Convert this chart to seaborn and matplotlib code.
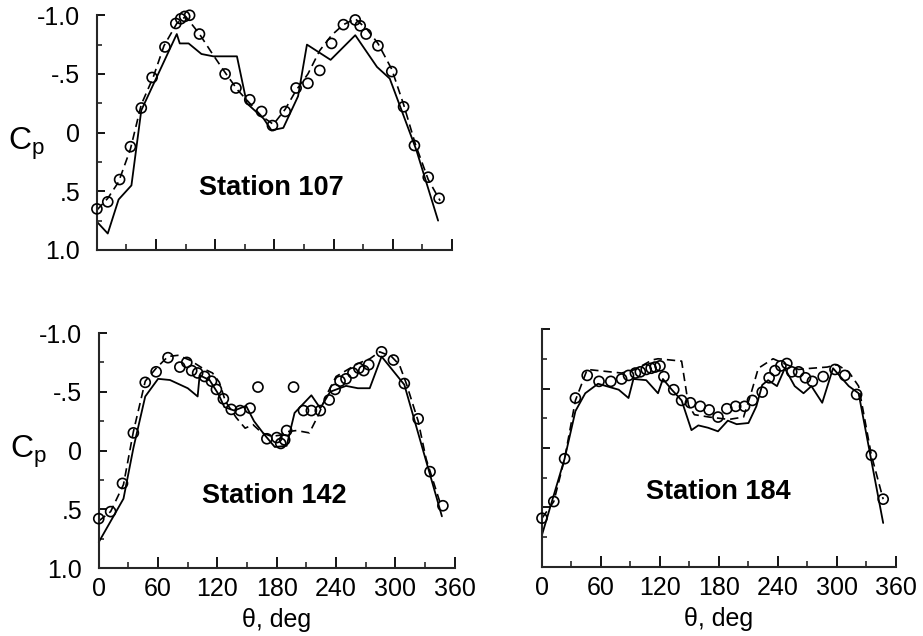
import matplotlib
matplotlib.use("Agg")
import matplotlib.pyplot as plt
import seaborn as sns
import pandas as pd

# ---------------- data ----------------
# Station 107
s107_circ_theta = [0, 11, 23, 34, 45, 56, 69, 80, 85, 89, 94, 104, 130, 141, 155, 167, 178,
                   191, 202, 214, 226, 238, 250, 262, 267, 273, 285, 299, 311, 322, 336, 347]
s107_circ_cp = [0.65, 0.59, 0.40, 0.12, -0.21, -0.47, -0.73, -0.93, -0.97, -0.99, -1.00, -0.84,
                -0.50, -0.38, -0.28, -0.18, -0.06, -0.18, -0.38, -0.42, -0.53, -0.76, -0.92,
                -0.96, -0.91, -0.84, -0.74, -0.52, -0.22, 0.11, 0.38, 0.56]
s107_sol_theta = [0, 11, 22, 35, 45, 81, 84, 93, 106, 118, 142, 152, 169, 177, 189, 204, 213,
                  237, 262, 284, 297, 324, 346]
s107_sol_cp = [0.76, 0.86, 0.57, 0.45, -0.19, -0.84, -0.76, -0.76, -0.67, -0.65, -0.65, -0.25,
               -0.12, -0.02, -0.04, -0.31, -0.75, -0.62, -0.83, -0.56, -0.46, 0.15, 0.75]
s107_dash_theta = [0, 11, 22, 34, 45, 57, 68, 81, 90, 104, 118, 131, 143, 155, 167, 179, 191,
                   202, 214, 226, 238, 250, 262, 274, 285, 299, 311, 323, 336, 348]
s107_dash_cp = [0.66, 0.56, 0.42, 0.14, -0.24, -0.47, -0.74, -0.93, -0.99, -0.84, -0.66, -0.50,
                -0.36, -0.25, -0.14, -0.07, -0.20, -0.36, -0.50, -0.70, -0.83, -0.92, -0.97,
                -0.88, -0.76, -0.54, -0.24, 0.10, 0.40, 0.58]

# Station 142
s142_circ_theta = [0, 12, 24, 35, 47, 58, 70, 82, 89, 94, 100, 107, 114, 119, 126, 134, 143,
                   153, 161, 170, 180, 184, 188, 190, 197, 207, 215, 224, 233, 239, 244, 250,
                   257, 263, 268, 273, 286, 298, 309, 323, 335, 348]
s142_circ_cp = [0.58, 0.52, 0.28, -0.15, -0.58, -0.67, -0.79, -0.71, -0.75, -0.68, -0.66,
                -0.63, -0.59, -0.52, -0.44, -0.35, -0.34, -0.36, -0.54, -0.10, -0.11, -0.06,
                -0.09, -0.17, -0.54, -0.34, -0.34, -0.34, -0.43, -0.52, -0.59, -0.61, -0.66,
                -0.70, -0.68, -0.73, -0.84, -0.77, -0.57, -0.27, 0.18, 0.47]
s142_sol_theta = [0, 25, 35, 47, 60, 72, 90, 100, 102, 112, 121, 127, 137, 149, 157, 167, 178,
                  190, 198, 215, 224, 234, 250, 262, 274, 286, 309, 347]
s142_sol_cp = [0.78, 0.41, -0.02, -0.46, -0.61, -0.60, -0.53, -0.46, -0.64, -0.60, -0.48,
               -0.37, -0.34, -0.38, -0.25, -0.14, -0.03, -0.04, -0.32, -0.47, -0.36, -0.50,
               -0.55, -0.53, -0.53, -0.80, -0.56, 0.56]
s142_dash_theta = [0, 12, 25, 35, 47, 58, 70, 80, 92, 105, 115, 122, 128, 139, 148, 156, 165,
                   175, 183, 190, 200, 213, 222, 232, 240, 250, 262, 274, 284, 296, 304, 311,
                   323, 331, 345]
s142_dash_cp = [0.60, 0.52, 0.29, -0.16, -0.59, -0.70, -0.80, -0.81, -0.77, -0.70, -0.66,
                -0.58, -0.42, -0.28, -0.19, -0.22, -0.15, -0.12, -0.13, -0.16, -0.17, -0.15,
                -0.30, -0.50, -0.63, -0.68, -0.74, -0.78, -0.84, -0.80, -0.73, -0.57, -0.25,
                0.07, 0.44]

# Station 184
s184_circ_theta = [0, 12, 23, 34, 46, 58, 70, 81, 88, 95, 100, 106, 111, 115, 120, 124, 134,
                   142, 151, 161, 170, 179, 188, 197, 206, 214, 224, 231, 237, 243, 249, 254,
                   261, 268, 275, 286, 298, 308, 320, 335, 347]
s184_circ_cp = [0.59, 0.45, 0.09, -0.42, -0.61, -0.56, -0.56, -0.58, -0.61, -0.63, -0.64,
                -0.66, -0.67, -0.68, -0.69, -0.60, -0.49, -0.40, -0.38, -0.35, -0.32, -0.26,
                -0.33, -0.35, -0.35, -0.40, -0.47, -0.59, -0.65, -0.69, -0.71, -0.64, -0.64,
                -0.59, -0.56, -0.60, -0.66, -0.61, -0.45, 0.06, 0.43]
s184_sol_theta = [0, 23, 34, 44, 57, 78, 88, 93, 106, 118, 123, 132, 142, 152, 159, 169, 179,
                  189, 198, 210, 218, 224, 230, 239, 247, 257, 266, 274, 285, 296, 312, 322, 347]
s184_sol_cp = [0.73, 0.09, -0.31, -0.46, -0.54, -0.49, -0.42, -0.58, -0.57, -0.46, -0.58,
               -0.49, -0.40, -0.15, -0.19, -0.17, -0.14, -0.23, -0.20, -0.21, -0.35, -0.53,
               -0.57, -0.52, -0.67, -0.52, -0.46, -0.52, -0.38, -0.67, -0.52, -0.46, 0.63]
s184_dash_theta = [0, 12, 23, 34, 46, 81, 95, 112, 118, 142, 149, 155, 170, 190, 205, 213,
                   220, 235, 246, 261, 274, 290, 300, 312, 322, 335, 347]
s184_dash_cp = [0.59, 0.45, 0.09, -0.40, -0.66, -0.63, -0.66, -0.74, -0.75, -0.73, -0.36,
                -0.28, -0.26, -0.24, -0.26, -0.47, -0.67, -0.75, -0.71, -0.66, -0.67, -0.68,
                -0.70, -0.64, -0.52, 0.06, 0.43]

x_ticks = [0, 60, 120, 180, 240, 300, 360]
x_minor = [30, 90, 150, 210, 270, 330]
y_ticks = [-1.0, -0.5, 0.0, 0.5, 1.0]
y_ticklabels = ["-1.0", "-.5", "0", ".5", "1.0"]
y_minor = [-0.75, -0.25, 0.25, 0.75]

# ---------------- style ----------------
sns.set_theme(style="ticks")
plt.rcParams["font.family"] = ["Liberation Sans", "DejaVu Sans"]
plt.rcParams["mathtext.fontset"] = "custom"
plt.rcParams["mathtext.rm"] = "Liberation Sans"
plt.rcParams["axes.linewidth"] = 1.4

fig = plt.figure(figsize=(9.23, 6.36), dpi=100)
ax1 = fig.add_axes([0.105, 0.607, 0.3846, 0.369])
ax2 = fig.add_axes([0.107, 0.1069, 0.3857, 0.3695])
ax3 = fig.add_axes([0.5872, 0.1085, 0.3835, 0.3742])

panels = [
    (ax1, s107_circ_theta, s107_circ_cp, s107_sol_theta, s107_sol_cp, s107_dash_theta,
     s107_dash_cp, "Station 107", (0.491, 0.264), 0.45, False),
    (ax2, s142_circ_theta, s142_circ_cp, s142_sol_theta, s142_sol_cp, s142_dash_theta,
     s142_dash_cp, "Station 142", (0.492, 0.306), 0.495, True),
    (ax3, s184_circ_theta, s184_circ_cp, s184_sol_theta, s184_sol_cp, s184_dash_theta,
     s184_dash_cp, "Station 184", (0.499, 0.316), None, True),
]

for (ax, ct, cc, st, sc, dt, dc, title, tpos, ylab, xlab) in panels:
    sol = pd.DataFrame({"theta": st, "cp": sc})
    dash = pd.DataFrame({"theta": dt, "cp": dc})
    circ = pd.DataFrame({"theta": ct, "cp": cc})
    sns.lineplot(data=sol, x="theta", y="cp", ax=ax, color="black", lw=1.3,
                 estimator=None, sort=False, clip_on=False)
    sns.lineplot(data=dash, x="theta", y="cp", ax=ax, color="black", lw=1.2,
                 estimator=None, sort=False, linestyle=(0, (5, 3)), clip_on=False)
    sns.scatterplot(data=circ, x="theta", y="cp", ax=ax, marker="o", s=52,
                    color="black", linewidth=1.2, zorder=3, clip_on=False)
    pts = ax.collections[-1]
    pts.set_facecolor("none")
    pts.set_edgecolor("black")

    ax.set_xlim(0, 360)
    ax.set_ylim(1.0, -1.0)
    sns.despine(ax=ax)
    ax.spines["left"].set_linewidth(1.5)
    ax.spines["bottom"].set_linewidth(1.5)

    ax.set_xticks(x_ticks)
    ax.set_xticks(x_minor, minor=True)
    ax.set_yticks(y_ticks)
    ax.set_yticks(y_minor, minor=True)
    ax.tick_params(axis="x", which="major", direction="in", length=8, width=1.3,
                   pad=6.5, labelsize=18, colors="black")
    ax.tick_params(axis="x", which="minor", direction="in", length=4.5, width=1.2)
    ax.tick_params(axis="y", which="major", direction="in", length=6, width=1.3,
                   pad=12, labelsize=18, colors="black")
    ax.tick_params(axis="y", which="minor", direction="in", length=3.8, width=1.2)

    if ylab is not None:
        ax.set_yticklabels(y_ticklabels)
        ax.set_ylabel(r"$\mathregular{C_p}$", fontsize=23, rotation=0, color="black",
                      va="center", ha="center")
        ax.yaxis.set_label_coords(-0.198, ylab)
    else:
        ax.set_yticklabels([])
        ax.set_ylabel("")
    if xlab:
        ax.set_xticklabels([str(v) for v in x_ticks])
        ax.set_xlabel("θ, deg", fontsize=18, labelpad=5, color="black")
    else:
        ax.set_xticklabels([])
        ax.set_xlabel("")

    ax.text(tpos[0], tpos[1], title, transform=ax.transAxes, ha="center", va="center",
            fontsize=19.5, fontweight="bold", color="black")

fig.savefig("out.png", dpi=100)
